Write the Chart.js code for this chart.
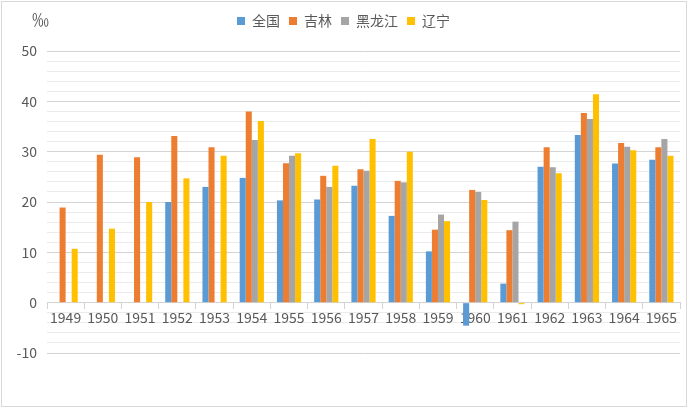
<!DOCTYPE html>
<html>
<head>
<meta charset="utf-8">
<script src="https://cdn.jsdelivr.net/npm/chart.js@4"></script>
<style>
  html, body { margin: 0; padding: 0; background: #fff; }
  #wrap { position: relative; width: 700px; height: 409px; }
  #frame { position: absolute; left: 1px; top: 1px; width: 684px; height: 404px; border: 1px solid #d9d9d9; box-sizing: content-box; pointer-events: none; }
  #unit { position: absolute; left: 32px; top: 6px; font: 17px "Noto Sans CJK SC", "Noto Sans", sans-serif; color: #595959; }
</style>
</head>
<body>
<div id="wrap">
  <canvas id="c" width="700" height="409"></canvas>
  <div id="frame"></div>
  <span id="unit">‰</span>
</div>
<script>
const FONT = '"Noto Sans CJK SC", "Noto Sans", sans-serif';
const textColor = '#595959';

const years = ['1949','1950','1951','1952','1953','1954','1955','1956','1957','1958','1959','1960','1961','1962','1963','1964','1965'];
const seriesNames = ['全国', '吉林', '黑龙江', '辽宁'];
const seriesColors = ['#5B9BD5', '#ED7D31', '#A5A5A5', '#FFC000'];

// natural growth rate, per mille
const national     = [null, null, null, 20.0, 23.0, 24.79, 20.32, 20.5, 23.23, 17.24, 10.19, -4.57, 3.78, 26.99, 33.33, 27.64, 28.38];
const jilin        = [18.9, 29.4, 28.9, 33.1, 30.9, 38.0, 27.7, 25.2, 26.5, 24.2, 14.5, 22.4, 14.4, 30.9, 37.7, 31.7, 30.9];
const heilongjiang = [null, null, null, null, null, 32.3, 29.2, 23.0, 26.2, 23.9, 17.5, 22.0, 16.1, 26.9, 36.5, 31.0, 32.5];
const liaoning     = [10.7, 14.7, 20.0, 24.7, 29.2, 36.1, 29.7, 27.2, 32.5, 30.0, 16.2, 20.4, -0.3, 25.7, 41.4, 30.3, 29.2];

const seriesData = [national, jilin, heilongjiang, liaoning];

// extra gap under the legend
const legendGap = {
  id: 'legendGap',
  beforeInit(chart) {
    const fit = chart.legend.fit;
    chart.legend.fit = function () {
      fit.call(this);
      this.height += 13;
    };
  }
};

new Chart(document.getElementById('c'), {
  type: 'bar',
  data: {
    labels: years,
    datasets: seriesData.map((d, i) => ({
      label: seriesNames[i],
      data: d,
      backgroundColor: seriesColors[i],
      borderWidth: 0,
      categoryPercentage: 0.65,
      barPercentage: 1.0
    }))
  },
  options: {
    responsive: false,
    animation: false,
    layout: { padding: { left: 7, right: 20, top: 5, bottom: 56 } },
    plugins: {
      legend: {
        display: true,
        position: 'top',
        labels: {
          color: textColor,
          font: { family: FONT, size: 14 },
          boxWidth: 8,
          boxHeight: 8,
          padding: 9
        }
      },
      tooltip: { enabled: false }
    },
    scales: {
      x: {
        position: { y: 0 },
        grid: {
          drawOnChartArea: false,
          drawTicks: true,
          tickLength: 6,
          offset: true,
          color: '#d4d4d4'
        },
        border: { color: '#d4d4d4' },
        ticks: {
          color: textColor,
          font: { family: FONT, size: 14 },
          padding: 1,
          maxRotation: 0,
          autoSkip: false
        }
      },
      y: {
        min: -10,
        max: 50,
        afterFit(s) { s.width = 40; },
        grid: {
          drawTicks: false,
          color: ctx => ctx.tick.value % 10 === 0 ? '#d4d4d4' : '#ebebeb'
        },
        border: { display: false },
        ticks: {
          stepSize: 2,
          autoSkip: false,
          color: textColor,
          font: { family: FONT, size: 14 },
          padding: 10,
          callback: v => v % 10 === 0 ? v : ''
        }
      }
    }
  },
  plugins: [legendGap]
});
</script>
</body>
</html>
